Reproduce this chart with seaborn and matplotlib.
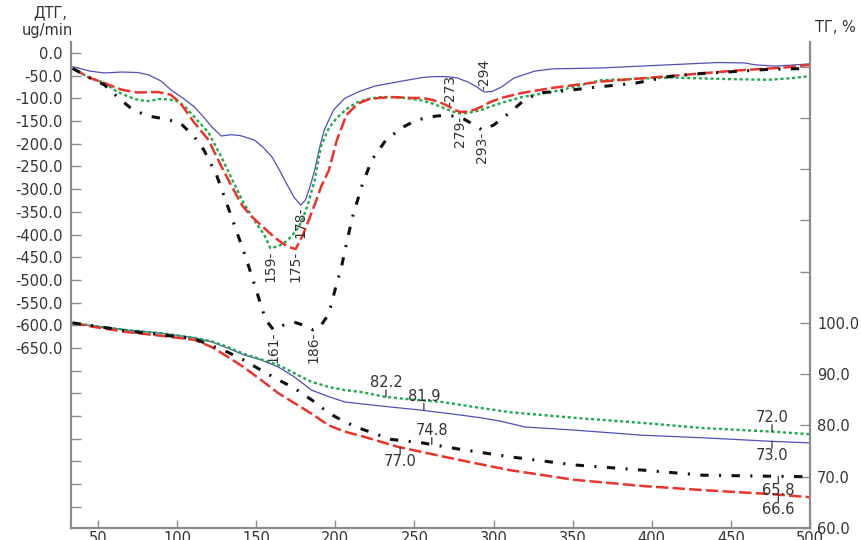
import numpy as np
import matplotlib
matplotlib.use("Agg")
import matplotlib.pyplot as plt
import seaborn as sns

# ---------------- DTG curves (ug/min) against temperature (deg C) ----------------
dtg_blue_t = [34, 45, 54, 65, 75, 82, 90, 96, 104, 111, 117, 122, 128, 134, 140, 149, 155, 160,
              165, 170, 174, 178, 181, 184, 187, 190, 193, 199, 206, 215, 225, 242, 255, 263,
              270, 277, 284, 290, 294, 299, 305, 313, 326, 337, 368, 411, 442, 459, 465, 478, 500]
dtg_blue_v = [-30, -40, -44, -42, -43, -48, -62, -81, -100, -119, -142, -163, -183, -180, -182,
              -192, -210, -229, -260, -293, -318, -335, -325, -295, -258, -210, -170, -125, -100,
              -85, -73, -62, -54, -52, -52, -55, -64, -76, -86, -85, -75, -55, -40, -35, -33,
              -26, -21, -22, -26, -29, -24]

dtg_red_t = [34, 45, 54, 65, 75, 88, 96, 102, 111, 120, 126, 134, 141, 147, 153, 158, 163, 167,
             171, 175, 179, 182, 185, 188, 191, 196, 201, 207, 214, 222, 235, 248, 255, 262,
             267, 272, 275, 279, 284, 288, 292, 298, 305, 318, 337, 368, 411, 452, 484, 500]
dtg_red_v = [-34, -55, -66, -81, -87, -86, -92, -110, -154, -192, -236, -290, -335, -360, -379,
             -395, -410, -420, -428, -432, -405, -380, -352, -325, -295, -258, -192, -137, -112,
             -101, -97, -99, -99, -104, -110, -118, -125, -130, -129, -125, -119, -108, -99,
             -88, -77, -63, -51, -39, -32, -26]

dtg_green_t = [34, 45, 54, 62, 69, 76, 82, 90, 96, 101, 106, 111, 120, 128, 135, 142, 150, 155,
               159, 164, 168, 172, 177, 180, 183, 187, 191, 196, 201, 207, 213, 221, 229, 242,
               254, 262, 267, 272, 275, 279, 284, 292, 298, 305, 318, 337, 368, 411, 432, 455,
               474, 490, 500]
dtg_green_v = [-34, -55, -66, -85, -96, -104, -106, -101, -103, -107, -122, -141, -176, -229,
               -280, -330, -375, -400, -430, -426, -418, -405, -383, -360, -330, -280, -205,
               -165, -143, -124, -110, -101, -97, -98, -104, -112, -119, -126, -130, -133,
               -132, -126, -118, -110, -97, -86, -60, -54, -56, -58, -59, -55, -51]

dtg_black_t = [34, 45, 54, 63, 72, 82, 92, 102, 111, 117, 125, 134, 144, 150, 156, 161, 167,
               174, 180, 186, 190, 194, 197, 200, 204, 208, 211, 217, 223, 232, 242, 250, 259,
               269, 275, 280, 286, 293, 300, 310, 318, 328, 343, 368, 389, 411, 432, 452, 474, 500]
dtg_black_v = [-34, -55, -70, -99, -125, -139, -145, -154, -185, -214, -269, -357, -456, -522,
               -588, -610, -600, -593, -600, -610, -605, -585, -560, -520, -470, -405, -360,
               -291, -236, -192, -165, -150, -141, -137, -139, -143, -155, -170, -159, -132,
               -108, -88, -84, -74, -67, -52, -45, -41, -36, -34]

# ---------------- TG curves (%) against temperature (deg C) ----------------
tg_blue_t = [34, 48, 69, 90, 111, 122, 132, 142, 153, 164, 174, 185, 196, 206, 217, 235, 254,
             275, 292, 305, 320, 351, 394, 432, 476, 500]
tg_blue_v = [100.0, 99.4, 98.6, 98.0, 97.1, 96.3, 95.1, 93.8, 92.8, 91.4, 89.5, 86.9, 85.6,
             84.6, 84.2, 83.6, 83.0, 82.2, 81.5, 80.8, 79.7, 79.1, 78.1, 77.6, 76.9, 76.6]

tg_green_t = [34, 48, 69, 90, 111, 122, 132, 142, 153, 164, 174, 185, 196, 206, 217, 231, 250,
              267, 290, 310, 351, 394, 432, 476, 500]
tg_green_v = [100.0, 99.4, 98.6, 98.0, 97.1, 96.4, 95.3, 94.0, 92.9, 91.8, 90.2, 88.5, 87.5,
              86.9, 86.5, 85.6, 85.0, 84.6, 83.5, 82.6, 81.5, 80.5, 79.5, 78.8, 78.3]

tg_red_t = [34, 48, 69, 90, 111, 122, 132, 142, 153, 164, 174, 185, 196, 206, 217, 240, 278,
            310, 351, 394, 432, 476, 500]
tg_red_v = [100.0, 99.2, 98.2, 97.5, 96.7, 95.3, 93.4, 91.4, 88.9, 86.3, 84.4, 82.3, 80.0,
            78.8, 77.9, 75.8, 73.3, 71.3, 69.4, 68.2, 67.4, 66.6, 66.0]

tg_black_t = [34, 48, 69, 90, 111, 132, 142, 153, 164, 174, 185, 196, 206, 215, 235, 255, 278,
              310, 351, 394, 432, 476, 500]
tg_black_v = [100.0, 99.4, 98.4, 97.7, 96.9, 94.3, 92.8, 90.8, 88.9, 87.3, 85.0, 82.4, 80.7,
              79.5, 77.3, 76.6, 75.4, 73.9, 72.3, 71.3, 70.3, 70.1, 70.0]

# Peak temperatures written beside the DTG curves: (curve, T, label, side)
dtg_peaks = [("green", 159, "159-", "below"), ("red", 175, "175-", "below"),
             ("blue", 178, "178-", "below"), ("black", 161, "161-", "below"),
             ("black", 186, "186-", "below"), ("red", 273, "-273", "above"),
             ("blue", 294, "-294", "above"), ("green", 279, "279-", "below"),
             ("black", 293, "293-", "below")]

# Residual-mass readings written beside the TG curves: (curve, T, label, side)
tg_marks = [("green", 232, "82.2", "above"), ("blue", 256, "81.9", "above"),
            ("black", 261, "74.8", "above"), ("red", 241, "77.0", "below"),
            ("green", 476, "72.0", "above"), ("blue", 476, "73.0", "below"),
            ("black", 480, "65.8", "below"), ("red", 480, "66.6", "below")]

dtg_ticks = list(range(0, -1001, -50))
tg_ticks = list(range(60, 151, 10))

dtg = {"blue": (dtg_blue_t, dtg_blue_v), "green": (dtg_green_t, dtg_green_v),
       "red": (dtg_red_t, dtg_red_v), "black": (dtg_black_t, dtg_black_v)}
tg = {"blue": (tg_blue_t, tg_blue_v), "green": (tg_green_t, tg_green_v),
      "red": (tg_red_t, tg_red_v), "black": (tg_black_t, tg_black_v)}

sns.set_theme(style="white")
plt.rcParams["font.family"] = ["DejaVu Sans"]
plt.rcParams["lines.scale_dashes"] = False

styles = {
    "blue": dict(color="#5050b4", linewidth=0.9, linestyle="-"),
    "green": dict(color="#1fa84c", linewidth=1.7, linestyle=(0, (2.2, 2.0))),
    "red": dict(color="#e8352b", linewidth=1.8, linestyle=(0, (9.0, 3.0))),
    "black": dict(color="#111111", linewidth=2.2, linestyle=(0, (6.0, 7.5, 1.5, 7.5))),
}

TXT = "#333333"
SPINE = "#8c8c8c"
FS = 10.5

fig = plt.figure(figsize=(8.62, 5.40), dpi=100)
ax = fig.add_axes([71 / 862, 12 / 540, (810 - 71) / 862, (498 - 12) / 540])
ax2 = ax.twinx()

for name in ["blue", "green", "red", "black"]:
    t, v = dtg[name]
    sns.lineplot(x=t, y=v, ax=ax, estimator=None, sort=False, **styles[name])
    t, v = tg[name]
    sns.lineplot(x=t, y=v, ax=ax2, estimator=None, sort=False, **styles[name])

ax.set_xlim(33, 500)
ax.set_ylim(-1046.6, 24.2)
ax2.set_ylim(60, 154.8)

ax.set_xticks(range(50, 501, 50))
ax.set_yticks(dtg_ticks)
ax.set_yticklabels([f"{v:.1f}" if v >= -650 else "" for v in dtg_ticks])
ax2.set_yticks(tg_ticks)
ax2.set_yticklabels([f"{v:.1f}" if v <= 100 else "" for v in tg_ticks])

for a in (ax, ax2):
    a.set_xlabel("")
    a.set_ylabel("")
    a.grid(False)
    for s in a.spines.values():
        s.set_visible(False)

for side in ("left", "bottom"):
    ax.spines[side].set_visible(True)
    ax.spines[side].set_color(SPINE)
    ax.spines[side].set_linewidth(1.6)
ax2.spines["right"].set_visible(True)
ax2.spines["right"].set_color(SPINE)
ax2.spines["right"].set_linewidth(1.6)

ax.tick_params(axis="y", direction="in", length=7, width=1, color=SPINE,
               labelcolor=TXT, labelsize=FS, pad=6, left=True)
ax.tick_params(axis="x", direction="in", length=6, width=1, color=SPINE,
               labelcolor=TXT, labelsize=FS, pad=2, bottom=True)
ax2.tick_params(axis="y", direction="in", length=7, width=1, color=SPINE,
                labelcolor=TXT, labelsize=FS, pad=5, right=True)

# Peak temperatures on the DTG curves (rotated)
for name, t, text, side in dtg_peaks:
    tt, vv = dtg[name]
    y = float(np.interp(t, tt, vv))
    below = side == "below"
    ax.annotate(text, xy=(t, y), xytext=(0, -1.5 if below else 1.5),
                textcoords="offset points", rotation=90, ha="center",
                va="top" if below else "bottom", fontsize=10, color=TXT)

# Mass readings on the TG curves: short leader tick plus the value
for name, t, text, side in tg_marks:
    tt, vv = tg[name]
    y = float(np.interp(t, tt, vv))
    sgn = 1 if side == "above" else -1
    ax2.annotate("", xy=(t, y), xytext=(0, 5 * sgn), textcoords="offset points",
                 arrowprops=dict(arrowstyle="-", color=TXT, lw=0.9,
                                 shrinkA=0, shrinkB=0))
    ax2.annotate(text, xy=(t, y), xytext=(0, 5 * sgn), textcoords="offset points",
                 ha="center", va="bottom" if sgn > 0 else "top", fontsize=FS, color=TXT)

fig.text(50 / 862, 1 - 13 / 540, "ДТГ,", ha="center", va="center", fontsize=FS, color=TXT)
fig.text(47 / 862, 1 - 30 / 540, "ug/min", ha="center", va="center", fontsize=FS, color=TXT)
fig.text(835 / 862, 1 - 28 / 540, "ТГ, %", ha="center", va="center", fontsize=FS, color=TXT)

fig.savefig("out.png", dpi=100)
